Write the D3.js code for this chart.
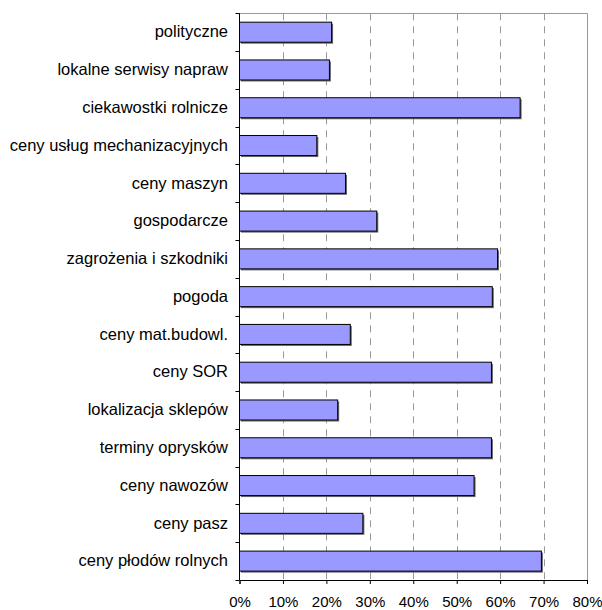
<!DOCTYPE html>
<html>
<head>
<meta charset="utf-8">
<script src="https://cdn.jsdelivr.net/npm/d3@7/dist/d3.min.js"></script>
<style>
html,body{margin:0;padding:0;background:#fff;}
text{font-family:"Liberation Sans",Arial,sans-serif;}
</style>
</head>
<body>
<svg id="chart" width="602" height="610"></svg>
<script>
const categories = ["polityczne","lokalne serwisy napraw","ciekawostki rolnicze","ceny usług mechanizacyjnych","ceny maszyn","gospodarcze","zagrożenia i szkodniki","pogoda","ceny mat.budowl.","ceny SOR","lokalizacja sklepów","terminy oprysków","ceny nawozów","ceny pasz","ceny płodów rolnych"];
const values = [21.2,20.7,64.6,17.8,24.4,31.6,59.4,58.2,25.5,58.0,22.6,58.0,54.0,28.4,69.5];
const ticks = [0,10,20,30,40,50,60,70,80];

(function(){
const svg = d3.select("#chart");
const pLeft = 239.5, pRight = 587, pTop = 13.3, pBottom = 580;
const x = d3.scaleLinear().domain([0,80]).range([pLeft,pRight]);
const y = d3.scaleBand().domain(categories).range([pTop,pBottom]).paddingInner(0.47).paddingOuter(0.235);

// gridlines
svg.append("g").selectAll("line").data(ticks.filter(t=>t>0 && t<80)).join("line")
  .attr("x1",d=>Math.round(x(d))+0.5).attr("x2",d=>Math.round(x(d))+0.5)
  .attr("y1",pTop).attr("y2",pBottom)
  .attr("stroke","#999").attr("stroke-width",1).attr("stroke-dasharray","7,6");
// plot border top/right
svg.append("path")
  .attr("d",`M${pLeft},${Math.round(pTop)+0.5}H${Math.round(pRight)+0.5}V${pBottom}`)
  .attr("fill","none").attr("stroke","#999").attr("stroke-width",1);

// bars with shadow
const g = svg.append("g");
g.selectAll("rect.sh").data(values).join("rect").attr("class","sh")
  .attr("x",x(0)+1.5).attr("y",(d,i)=>y(categories[i])+1.5)
  .attr("width",d=>x(d)-x(0)).attr("height",y.bandwidth())
  .attr("fill","#666");
g.selectAll("rect.bar").data(values).join("rect").attr("class","bar")
  .attr("x",x(0)).attr("y",(d,i)=>y(categories[i]))
  .attr("width",d=>x(d)-x(0)).attr("height",y.bandwidth())
  .attr("fill","#9999FF").attr("stroke","#000").attr("stroke-width",1);

// x axis
const xAxis = d3.axisBottom(x).tickValues(ticks).tickFormat(d=>d+"%").tickSize(4).tickPadding(12.5);
const xa = svg.append("g").attr("transform",`translate(0,${pBottom})`).call(xAxis);
xa.select(".domain").attr("stroke","#000");
xa.selectAll("line").attr("stroke","#000");
xa.selectAll("text").attr("font-size","15px").attr("fill","#000").attr("font-family","Liberation Sans, Arial, sans-serif");

// y axis (ticks at category boundaries)
const bounds = categories.map((c,i)=>pTop + i*(pBottom-pTop)/categories.length).concat([pBottom]);
svg.append("line").attr("x1",pLeft).attr("x2",pLeft).attr("y1",pTop).attr("y2",pBottom).attr("stroke","#000");
svg.append("g").selectAll("line").data(bounds).join("line")
  .attr("x1",pLeft-4).attr("x2",pLeft).attr("y1",d=>Math.round(d)+0.5).attr("y2",d=>Math.round(d)+0.5).attr("stroke","#000");
svg.append("g").selectAll("text").data(categories).join("text")
  .attr("x",228).attr("y",d=>y(d)+y.bandwidth()/2).attr("dy","0.32em")
  .attr("text-anchor","end").attr("font-size","16.5px").attr("fill","#000").text(d=>d);
})();
</script>
</body>
</html>
